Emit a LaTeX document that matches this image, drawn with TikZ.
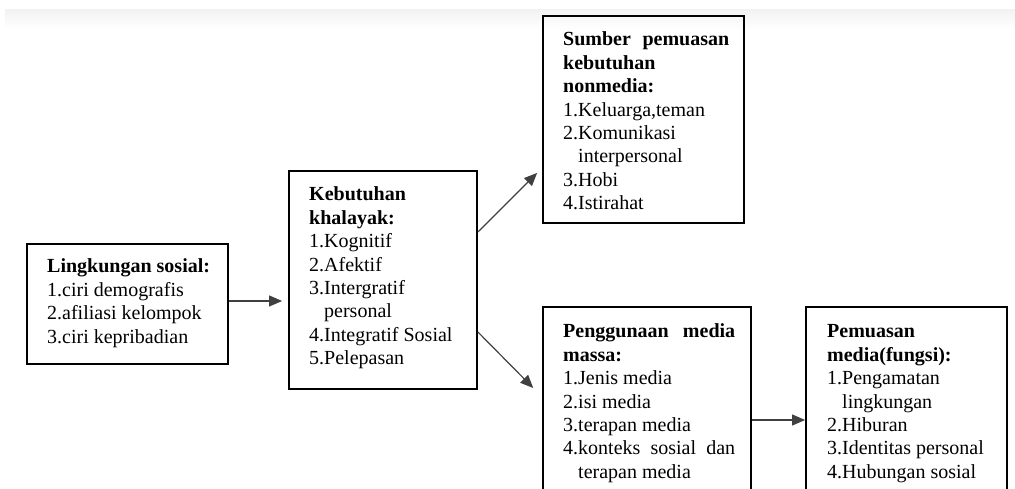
\documentclass[tikz,border=0pt]{standalone}
\usepackage{fontspec}
\setmainfont{Liberation Serif}
\usetikzlibrary{arrows.meta}
\begin{document}
\begin{tikzpicture}[x=1pt,y=1pt,
  box/.style={draw=black, line width=1.8pt, rectangle, inner sep=0pt},
  txt/.style={anchor=base west, inner sep=0pt, font=\fontsize{20}{23.4}\selectfont},
  arr/.style={draw=black!75, line width=1.2pt, -{Triangle[length=13pt,width=11pt]}}]
\clip (0,0) rectangle (1015,489);
\shade[top color=black!5, bottom color=white] (5,479) rectangle (1015,460);
% boxes
\node[box, minimum width=201pt, minimum height=120pt] (b1) at (127.5,185) {};
\node[box, minimum width=188pt, minimum height=218pt] (b2) at (383,209) {};
\node[box, minimum width=201pt, minimum height=207pt] (b3) at (643.5,369.5) {};
\node[box, minimum width=208pt, minimum height=213pt] (b4) at (647,75.5) {};
\node[box, minimum width=201pt, minimum height=213pt] (b5) at (906.5,75.5) {};
% texts
\node[txt] (t1) at (47,216) {\parbox[t]{200pt}{\textbf{Lingkungan sosial:}\\1.ciri demografis\\2.afiliasi kelompok\\3.ciri kepribadian}};
\node[txt] (t2) at (309,288) {\parbox[t]{200pt}{\textbf{Kebutuhan}\\\textbf{khalayak:}\\1.Kognitif\\2.Afektif\\3.Intergratif\\\phantom{3.}personal\\4.Integratif Sosial\\5.Pelepasan}};
\node[txt] (t3) at (563,443) {\parbox[t]{200pt}{\makebox[166pt][s]{\textbf{Sumber pemuasan}}\\\textbf{kebutuhan}\\\textbf{nonmedia:}\\1.Keluarga,teman\\2.Komunikasi\\\phantom{2.}interpersonal\\3.Hobi\\4.Istirahat}};
\node[txt] (t4) at (563,151) {\parbox[t]{200pt}{\makebox[172pt][s]{\textbf{Penggunaan media}}\\\textbf{massa:}\\1.Jenis media\\2.isi media\\3.terapan media\\\makebox[172pt][s]{4.konteks sosial dan}\\\phantom{4.}terapan media}};
\node[txt] (t5) at (827,151) {\parbox[t]{200pt}{\textbf{Pemuasan}\\\textbf{media(fungsi):}\\1.Pengamatan\\\phantom{1.}lingkungan\\2.Hiburan\\3.Identitas personal\\4.Hubungan sosial}};
% arrows
\draw[arr, shorten >=6pt] ([yshift=3]b1.east) -- ([yshift=3]b1.east -| b2.west);
\draw[arr, shorten >=7pt] ([yshift=48]b2.east) -- ([yshift=-48.5]b3.west);
\draw[arr, shorten >=12.6pt] ([yshift=-52]b2.east) -- ([yshift=16.5]b4.west);
\draw[arr] ([yshift=-6.5]b4.east) -- ([yshift=-6.5]b4.east -| b5.west);
\end{tikzpicture}
\end{document}
